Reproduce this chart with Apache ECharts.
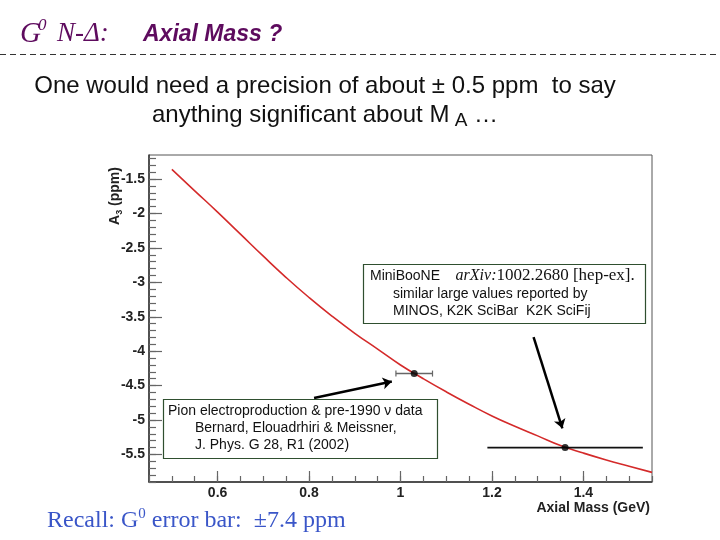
<!DOCTYPE html>
<html>
<head>
<meta charset="utf-8">
<script src="https://cdn.jsdelivr.net/npm/echarts@6/dist/echarts.min.js"></script>
<style>html,body{margin:0;padding:0;background:#fff}#c{width:720px;height:540px}</style>
</head>
<body>
<div id="c"></div>
<script>
// ---- data ----
const curveX = [0.50, 0.55, 0.60, 0.65, 0.70, 0.75, 0.80, 0.85, 0.90, 0.95, 1.00, 1.05, 1.10, 1.15, 1.20, 1.25, 1.30, 1.35, 1.40, 1.45, 1.50, 1.55];
const curveY = [-1.36, -1.67, -1.98, -2.30, -2.62, -2.93, -3.22, -3.49, -3.74, -3.97, -4.20, -4.40, -4.59, -4.77, -4.94, -5.09, -5.23, -5.37, -5.48, -5.58, -5.67, -5.76];
const pointX = [1.03, 1.36];
const pointY = [-4.325, -5.40];
const pointErr = [0.04, 0.17];
const xMajorTicks = [0.6, 0.8, 1.0, 1.2, 1.4];
const yMajorTicks = [-5.5, -5, -4.5, -4, -3.5, -3, -2.5, -2, -1.5];

const X_MIN = 0.45, X_MAX = 1.55, Y_MIN = -5.9, Y_MAX = -1.15;
const xMinorTicks = [];
for (let i = 0; i <= 22; i++) xMinorTicks.push(+(0.45 + i * 0.05).toFixed(2));
const yMinorTicks = [];
for (let i = 0; i <= 47; i++) yMinorTicks.push(+(-5.9 + i * 0.1).toFixed(1));

const curveData = curveX.map((x, i) => [x, curveY[i]]);
const pointData = pointX.map((x, i) => [x, pointY[i]]);
const errData = pointX.map((x, i) => [x, pointY[i], pointErr[i]]);

const SANS = '"Liberation Sans", Arial, sans-serif';
const SERIF = '"Liberation Serif", "Times New Roman", serif';
const TITLE_COLOR = '#5e0b5e';
const BOX_COLOR = '#2f4f2f';

const chart = echarts.init(document.getElementById('c'), null, {renderer: 'canvas'});

const tickLine = {color: '#666', width: 1.2};
const option = {
  animation: false,
  backgroundColor: '#fff',
  grid: {left: 149, top: 155, width: 503, height: 327, show: true, borderColor: '#555', borderWidth: 1, containLabel: false, outerBoundsMode: 'none'},
  xAxis: [
    {type: 'value', min: X_MIN, max: X_MAX, position: 'bottom',
     axisLine: {show: true, onZero: false, lineStyle: {color: '#333', width: 1.5}},
     axisTick: {show: true, inside: true, length: 11, customValues: xMajorTicks, lineStyle: tickLine},
     axisLabel: {show: true, customValues: xMajorTicks, fontFamily: SANS, fontWeight: 'bold', fontSize: 14, color: '#222', margin: 4, formatter: v => String(+v.toFixed(2))},
     splitLine: {show: false}},
    {type: 'value', min: X_MIN, max: X_MAX, position: 'bottom',
     axisLine: {show: false, onZero: false},
     axisTick: {show: true, inside: true, length: 6, customValues: xMinorTicks, lineStyle: tickLine},
     axisLabel: {show: false}, splitLine: {show: false}}
  ],
  yAxis: [
    {type: 'value', min: Y_MIN, max: Y_MAX, position: 'left',
     axisLine: {show: true, onZero: false, lineStyle: {color: '#333', width: 1.5}},
     axisTick: {show: true, inside: true, length: 13, customValues: yMajorTicks, lineStyle: tickLine},
     axisLabel: {show: true, customValues: yMajorTicks, fontFamily: SANS, fontWeight: 'bold', fontSize: 14, color: '#222', margin: 4, formatter: v => String(+v.toFixed(2))},
     splitLine: {show: false}},
    {type: 'value', min: Y_MIN, max: Y_MAX, position: 'left',
     axisLine: {show: false, onZero: false},
     axisTick: {show: true, inside: true, length: 7, customValues: yMinorTicks, lineStyle: tickLine},
     axisLabel: {show: false}, splitLine: {show: false}}
  ],
  series: [
    {type: 'line', xAxisIndex: 0, yAxisIndex: 0, data: curveData, smooth: true, showSymbol: false,
     lineStyle: {color: '#d42a2a', width: 1.6}, z: 3},
    {type: 'custom', xAxisIndex: 0, yAxisIndex: 0, data: errData, z: 4,
     renderItem: function (params, api) {
       const x = api.value(0), y = api.value(1), e = api.value(2);
       const p1 = api.coord([x - e, y]);
       const p2 = api.coord([x + e, y]);
       const withCaps = params.dataIndex === 0;
       const color = withCaps ? '#666' : '#111';
       const children = [{type: 'line', shape: {x1: p1[0], y1: p1[1], x2: p2[0], y2: p2[1]}, style: {stroke: color, lineWidth: withCaps ? 1.5 : 1.6}}];
       if (withCaps) {
         children.push({type: 'line', shape: {x1: p1[0], y1: p1[1] - 3, x2: p1[0], y2: p1[1] + 3}, style: {stroke: color, lineWidth: 1.2}});
         children.push({type: 'line', shape: {x1: p2[0], y1: p2[1] - 3, x2: p2[0], y2: p2[1] + 3}, style: {stroke: color, lineWidth: 1.2}});
       }
       return {type: 'group', children: children};
     }},
    {type: 'scatter', xAxisIndex: 0, yAxisIndex: 0, data: pointData, symbol: 'circle', symbolSize: 7,
     itemStyle: {color: '#000'}, z: 5,
     markLine: {silent: true, symbol: ['none', 'arrow'], symbolSize: [9, 9], label: {show: false},
       lineStyle: {color: '#000', width: 2.5, type: 'solid'}, z: 20,
       data: [
         [{coord: [0.811, -4.68]}, {coord: [0.981, -4.44]}],
         [{coord: [1.291, -3.794]}, {coord: [1.354, -5.12]}]
       ]}}
  ],
  graphic: [
    // title
    {type: 'text', x: 20, y: 34, style: {text: 'G', font: 'italic 29px ' + SERIF, fill: TITLE_COLOR, verticalAlign: 'middle'}},
    {type: 'text', x: 38, y: 26, style: {text: '0', font: 'italic 17px ' + SERIF, fill: TITLE_COLOR, verticalAlign: 'middle'}},
    {type: 'text', x: 57, y: 34, style: {text: 'N-Δ:', font: 'italic 27px ' + SERIF, fill: TITLE_COLOR, verticalAlign: 'middle'}},
    {type: 'text', x: 143, y: 35, style: {text: 'Axial Mass ?', font: 'italic bold 23px ' + SANS, fill: TITLE_COLOR, verticalAlign: 'middle'}},
    {type: 'line', shape: {x1: 0, y1: 54.5, x2: 720, y2: 54.5}, style: {stroke: '#333', lineWidth: 1, lineDash: [6, 4]}},
    // subtitle
    {type: 'text', x: 325, y: 86, style: {text: 'One would need a precision of about ± 0.5 ppm  to say', font: '24px ' + SANS, fill: '#111', align: 'center', verticalAlign: 'middle'}},
    {type: 'text', x: 325, y: 115, style: {text: '{n|anything significant about M}{s| A}{n| …}', align: 'center', verticalAlign: 'middle',
      rich: {n: {fontSize: 24, fontFamily: SANS, fill: '#111', lineHeight: 30}, s: {fontSize: 19, fontFamily: SANS, fill: '#111', lineHeight: 19, verticalAlign: 'bottom'}}}},
    // axis names
    {type: 'text', x: 115, y: 196, rotation: Math.PI / 2, z: 10, style: {text: '{b|A}{s|3}{b| (ppm)}', align: 'center', verticalAlign: 'middle',
      rich: {b: {fontSize: 14, fontWeight: 'bold', fontFamily: SANS, fill: '#222', lineHeight: 18}, s: {fontSize: 9, fontWeight: 'bold', fontFamily: SANS, fill: '#222', lineHeight: 9, verticalAlign: 'bottom'}}}},
    {type: 'text', x: 650, y: 508, style: {text: 'Axial Mass (GeV)', font: 'bold 14px ' + SANS, fill: '#222', align: 'right', verticalAlign: 'middle'}},
    // annotation box 1
    {type: 'rect', z: 15, shape: {x: 363.5, y: 264.5, width: 282, height: 59}, style: {fill: '#fff', stroke: BOX_COLOR, lineWidth: 1.2}},
    {type: 'text', z: 16, x: 370, y: 276, style: {text: '{a|MiniBooNE    }{b|arXiv:}{c|1002.2680 [hep-ex].}', verticalAlign: 'middle',
      rich: {a: {fontSize: 14, fontFamily: SANS, fill: '#111'}, b: {fontSize: 16, fontStyle: 'italic', fontFamily: SERIF, fill: '#111'}, c: {fontSize: 17, fontFamily: SERIF, fill: '#111'}}}},
    {type: 'text', z: 16, x: 393, y: 294, style: {text: 'similar large values reported by', font: '14px ' + SANS, fill: '#111', verticalAlign: 'middle'}},
    {type: 'text', z: 16, x: 393, y: 311, style: {text: 'MINOS, K2K SciBar  K2K SciFij', font: '14px ' + SANS, fill: '#111', verticalAlign: 'middle'}},
    // annotation box 2
    {type: 'rect', z: 15, shape: {x: 163.5, y: 399.5, width: 274, height: 59}, style: {fill: '#fff', stroke: BOX_COLOR, lineWidth: 1.2}},
    {type: 'text', z: 16, x: 168, y: 411, style: {text: 'Pion electroproduction & pre-1990 ν data', font: '14px ' + SANS, fill: '#111', verticalAlign: 'middle'}},
    {type: 'text', z: 16, x: 195, y: 428, style: {text: 'Bernard, Elouadrhiri & Meissner,', font: '14px ' + SANS, fill: '#111', verticalAlign: 'middle'}},
    {type: 'text', z: 16, x: 195, y: 445, style: {text: 'J. Phys. G 28, R1 (2002)', font: '14px ' + SANS, fill: '#111', verticalAlign: 'middle'}},
    // bottom note
    {type: 'text', x: 47, y: 521, style: {text: '{n|Recall: G}{p|0}{n| error bar:  ±7.4 ppm}', verticalAlign: 'middle',
      rich: {n: {fontSize: 24, fontFamily: SERIF, fill: '#3a56c8', lineHeight: 28}, p: {fontSize: 15, fontFamily: SERIF, fill: '#3a56c8', lineHeight: 15, verticalAlign: 'top'}}}}
  ]
};
chart.setOption(option);
</script>
</body>
</html>
